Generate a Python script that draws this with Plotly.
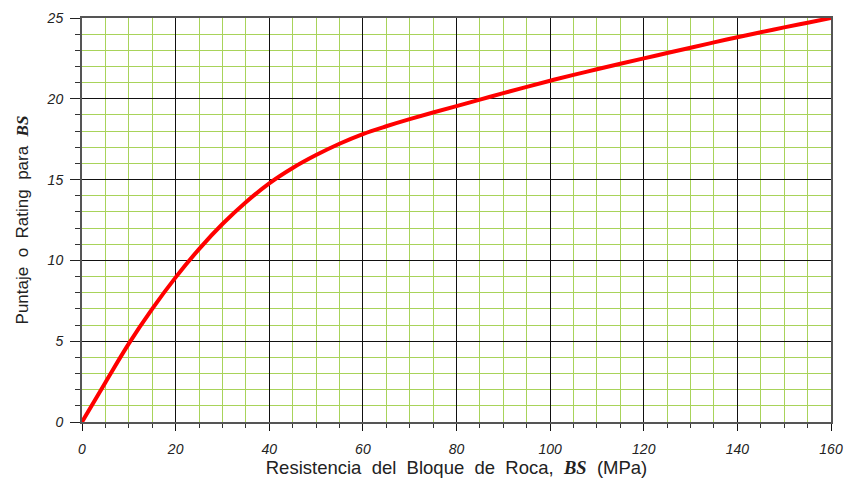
import plotly.graph_objects as go

bs_mpa = [0, 5, 10, 15, 20, 25, 30, 35, 40, 45, 50, 55, 60, 65, 70, 75, 80,
          85, 90, 95, 100, 105, 110, 115, 120, 125, 130, 135, 140, 145, 150, 155, 160]
rating = [0.0, 2.45, 4.85, 7.0, 8.95, 10.7, 12.25, 13.6, 14.77, 15.72, 16.52, 17.22, 17.82,
          18.30, 18.74, 19.15, 19.55, 19.95, 20.35, 20.74, 21.12, 21.48, 21.83, 22.17, 22.50,
          22.83, 23.16, 23.49, 23.81, 24.12, 24.42, 24.71, 25.0]

x_ticks = [0, 20, 40, 60, 80, 100, 120, 140, 160]
y_ticks = [0, 5, 10, 15, 20, 25]

GREEN = "#a8d35a"
SP = "&nbsp;"

fig = go.Figure()
fig.add_trace(go.Scatter(x=bs_mpa, y=rating, mode="lines",
                         line=dict(color="#ff0000", width=4, shape="spline", smoothing=1.0),
                         hoverinfo="skip", showlegend=False))

bs_html = "<span style=\"font-family:'Liberation Serif'\"><b><i>BS</i></b></span>"

fig.update_layout(
    width=846, height=482,
    margin=dict(l=82, r=15, t=18, b=60),
    paper_bgcolor="white", plot_bgcolor="white",
    font=dict(family="Liberation Sans, Arial", color="#222"),
    xaxis=dict(
        range=[0, 160], tickvals=x_ticks, ticktext=[str(v) for v in x_ticks],
        automargin=False,
        showgrid=True, gridcolor="#111", gridwidth=1,
        zeroline=False, showline=True, linecolor="#555", linewidth=1.5, mirror=True,
        ticks="outside", ticklen=7, tickcolor="#111", tickwidth=1,
        ticklabelstandoff=6,
        tickfont=dict(size=14, style="italic", color="#222"),
        minor=dict(dtick=5, showgrid=True, gridcolor=GREEN, gridwidth=1.3,
                   ticks="outside", ticklen=4, tickcolor="#333"),
        title=dict(text="Resistencia" + SP + " del" + SP + " Bloque" + SP + " de" + SP + " Roca," + SP + " " + bs_html + SP + " (MPa)",
                   font=dict(size=18.5, color="#222"), standoff=6),
    ),
    yaxis=dict(
        range=[0, 25], tickvals=y_ticks, ticktext=[str(v) for v in y_ticks],
        automargin=False,
        showgrid=True, gridcolor="#111", gridwidth=1,
        zeroline=False, showline=True, linecolor="#555", linewidth=2, mirror=True,
        ticks="outside", ticklen=10, tickcolor="#222", tickwidth=1,
        ticklabelstandoff=4,
        tickfont=dict(size=14, style="italic", color="#222"),
        minor=dict(dtick=1, showgrid=True, gridcolor=GREEN, gridwidth=1.3,
                   ticks="outside", ticklen=5, tickcolor="#333"),
        title=dict(text="Puntaje" + SP + " o" + SP + " Rating" + SP + " para" + SP + " " + bs_html,
                   font=dict(size=17, color="#222"), standoff=14),
    ),
)

fig.write_html("out.html")
